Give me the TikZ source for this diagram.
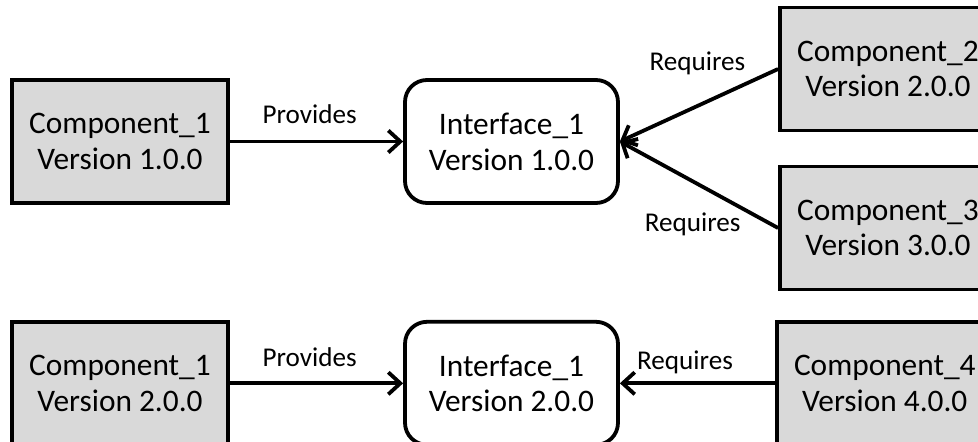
\documentclass[tikz,border=0pt]{standalone}
\usepackage{fontspec}
\setmainfont{Carlito}
\usetikzlibrary{arrows.meta, positioning}
\definecolor{boxgray}{HTML}{D9D9D9}

\begin{document}
\begin{tikzpicture}[node distance=4.33cm,
    component/.style={rectangle, draw=black, fill=boxgray, line width=2.7pt,
                      minimum width=5.4cm, minimum height=3.075cm,
                      align=center, font=\fontsize{22.3}{25.5}\selectfont},
    interface/.style={rectangle, rounded corners=0.55cm, draw=black, fill=white,
                      line width=2.7pt, minimum width=5.325cm, minimum height=3.075cm,
                      align=center, font=\fontsize{22.3}{25.5}\selectfont},
    edgetext/.style={font=\fontsize{19.3}{21}\selectfont, inner sep=0pt},
    arrow/.style={-{Straight Barb[length=3mm, width=5.5mm]}, line width=2.7pt}
]
\useasboundingbox (0,0) rectangle (24.45,-11.025);
\clip (0,0) rectangle (24.45,-11.025);

% first row
\node (c1) [component] at (3.0,-3.5375) {Component\_1\\Version 1.0.0};
\node (i1) [interface, right=of c1]     {Interface\_1\\Version 1.0.0};
\node (c2) [component] at (22.2,-1.725) {Component\_2\\Version 2.0.0};
\node (c3) [component] at (22.2,-5.7)   {Component\_3\\Version 3.0.0};

% second row
\node (c1b) [component, below=2.875cm of c1] {Component\_1\\Version 2.0.0};
\node (i1b) [interface, below=2.875cm of i1] {Interface\_1\\Version 2.0.0};
\node (c4)  [component, right=3.875cm of i1b] {Component\_4\\Version 4.0.0};

\draw [arrow] (c1) -- node[edgetext, pos=0.46, above=0.4cm]{Provides} (i1);
\draw [arrow] (c2.west) -- node[edgetext, pos=0.51, above=0.74cm]{Requires} (i1.east);
\draw [arrow] (c3.west) -- node[edgetext, pos=0.54, below=0.73cm]{Requires} (i1.east);
\draw [arrow] (c1b) -- node[edgetext, pos=0.46, above=0.36cm]{Provides} (i1b);
\draw [arrow] (c4) -- node[edgetext, pos=0.58, above=0.2cm]{Requires} (i1b);
\end{tikzpicture}
\end{document}
